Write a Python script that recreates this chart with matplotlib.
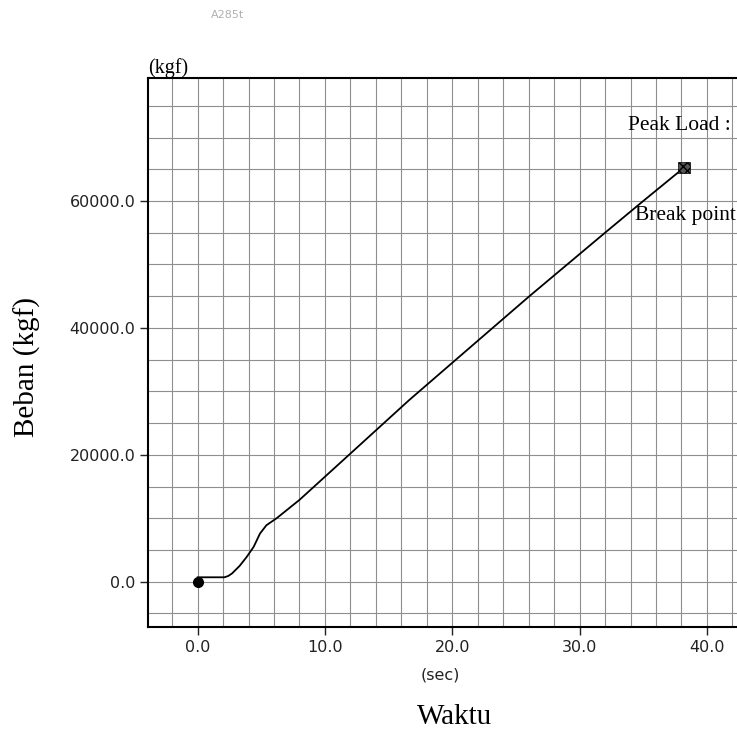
import numpy as np
import matplotlib
matplotlib.use('Agg')
import matplotlib.pyplot as plt
from matplotlib.ticker import MultipleLocator

# load curve (sec, kgf)
time_s = [0.0, 2.1, 2.4, 2.7, 3.3, 3.85, 4.4, 4.9, 5.4, 6.2, 8.0, 10.0, 12.0,
          16.6, 20.0, 26.0, 32.0, 35.0, 38.2]
load_kgf = [700, 700, 900, 1300, 2500, 3900, 5500, 7600, 8900, 10000, 12900, 16550,
            20200, 28600, 34500, 44900, 55000, 60000, 65250]
start_pt = (0.0, 0.0)
peak_pt = (38.2, 65250)

xticks = [0, 10, 20, 30, 40]
yticks = [0, 20000, 40000, 60000]

fig = plt.figure(figsize=(7.37, 7.41), dpi=100)
# axes run off the right edge like the scanned page
ax = fig.add_axes([0.2008, 0.1538, 0.862, 0.7409])
ax.set_xlim(-3.9, 46.0)
ax.set_ylim(-7140, 79380)

ax.xaxis.set_minor_locator(MultipleLocator(2))
ax.yaxis.set_minor_locator(MultipleLocator(5000))
ax.grid(which='both', color='#8f8f8f', lw=0.8)
ax.set_axisbelow(True)

ax.plot(time_s, load_kgf, color='black', lw=1.3)
ax.plot(*start_pt, 'o', color='black', ms=7)
ax.scatter([peak_pt[0]], [peak_pt[1]], marker='s', s=70, facecolor='#555555',
           edgecolor='black', hatch='xxxx', linewidths=0.5, zorder=5)

ax.set_xticks(xticks)
ax.set_yticks(yticks)
ax.set_xticklabels([f'{v:.1f}' for v in xticks])
ax.set_yticklabels([f'{v:.1f}' for v in yticks])
ax.tick_params(which='major', length=6, width=1, labelsize=11.5, pad=3, colors='#222222')
ax.tick_params(which='minor', length=0)
for s in ['left', 'bottom', 'top']:
    ax.spines[s].set_linewidth(1.5)

serif = 'Liberation Serif'
ax.text(33.8, 71820, 'Peak Load :', fontsize=15.5, family=serif, va='center')
ax.text(34.35, 57790, 'Break point', fontsize=15.5, family=serif, va='center')

fig.text(148/737, 1-68/741, '(kgf)', fontsize=14.5, family=serif, ha='left', va='center')
fig.text(440.7/737, 1-675/741, '(sec)', fontsize=11.5, ha='center', va='center', color='#222222')
fig.text(27/737, 1-367/741, 'Beban (kgf)', fontsize=21, family=serif, rotation=90,
         ha='center', va='center')
fig.text(455/737, 1-717/741, 'Waktu', fontsize=21, family=serif, ha='center', va='center')
fig.text(228/737, 1-15/741, 'A285t', fontsize=8, color='#b0b0b0', ha='center', va='center')

fig.savefig('out.png', dpi=100)
